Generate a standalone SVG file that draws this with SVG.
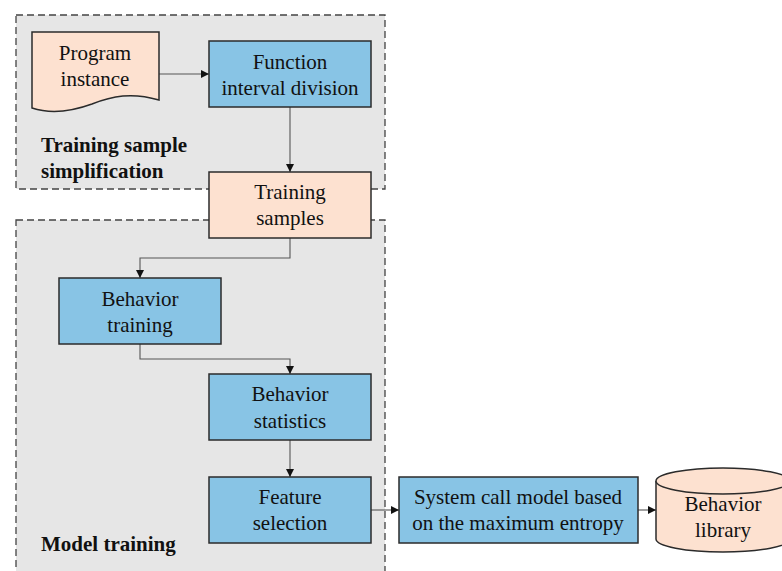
<svg xmlns="http://www.w3.org/2000/svg" width="782" height="571" viewBox="0 0 782 571">
  <defs>
    <marker id="arrow" viewBox="0 0 10 10" refX="10" refY="5" markerWidth="8" markerHeight="8" markerUnits="userSpaceOnUse" orient="auto">
      <path d="M0,0 L10,5 L0,10 Z" fill="#111"/>
    </marker>
    <style>
      .group { fill: #e6e6e6; stroke: #444; stroke-width: 1.3; stroke-dasharray: 7 4; }
      .blue { fill: #88c4e5; stroke: #2b2b2b; stroke-width: 1.5; }
      .peach { fill: #fde1d0; stroke: #2b2b2b; stroke-width: 1.5; }
      .label { font-family: "Liberation Serif", "Times New Roman", serif; font-size: 21px; fill: #111; text-anchor: middle; }
      .title { font-family: "Liberation Serif", "Times New Roman", serif; font-size: 21px; font-weight: bold; fill: #111; }
      .conn { fill: none; stroke: #555; stroke-width: 1.1; marker-end: url(#arrow); }
    </style>
  </defs>
  <rect width="782" height="571" fill="#ffffff"/>

  <!-- container regions -->
  <g id="region-simplification">
    <rect class="group" x="16" y="15" width="369" height="174"/>
    <text class="title" x="41" y="152">Training sample</text>
    <text class="title" x="41" y="178">simplification</text>
  </g>
  <g id="region-model-training">
    <rect class="group" x="16" y="220" width="369" height="360"/>
    <text class="title" x="41" y="551">Model training</text>
  </g>

  <!-- connectors -->
  <g id="connectors">
    <path class="conn" d="M159,74 H209"/>
    <path class="conn" d="M290,107 V172"/>
    <path class="conn" d="M290,238 V258 H140 V278"/>
    <path class="conn" d="M140,344 V359 H290 V374"/>
    <path class="conn" d="M290,440 V477"/>
    <path class="conn" d="M371,510 H399"/>
    <path class="conn" d="M638,510 H656"/>
  </g>

  <g id="program-instance">
    <path class="peach" d="M32,32 H159 V100 C132,92 112,96 92,104 C70,112 50,114 32,108 Z"/>
    <text class="label" x="95" y="60">Program</text>
    <text class="label" x="95" y="86">instance</text>
  </g>

  <g id="function-interval-division">
    <rect class="blue" x="209" y="41" width="162" height="66"/>
    <text class="label" x="290" y="69">Function</text>
    <text class="label" x="290" y="95">interval division</text>
  </g>

  <g id="training-samples">
    <rect class="peach" x="209" y="172" width="162" height="66"/>
    <text class="label" x="290" y="199">Training</text>
    <text class="label" x="290" y="225">samples</text>
  </g>

  <g id="behavior-training">
    <rect class="blue" x="59" y="278" width="162" height="66"/>
    <text class="label" x="140" y="306">Behavior</text>
    <text class="label" x="140" y="332">training</text>
  </g>

  <g id="behavior-statistics">
    <rect class="blue" x="209" y="374" width="162" height="66"/>
    <text class="label" x="290" y="401">Behavior</text>
    <text class="label" x="290" y="428">statistics</text>
  </g>

  <g id="feature-selection">
    <rect class="blue" x="209" y="477" width="162" height="66"/>
    <text class="label" x="290" y="504">Feature</text>
    <text class="label" x="290" y="530">selection</text>
  </g>

  <g id="system-call-model">
    <rect class="blue" x="399" y="477" width="239" height="66"/>
    <text class="label" x="518" y="504">System call model based</text>
    <text class="label" x="518" y="530">on the maximum entropy</text>
  </g>

  <g id="behavior-library">
    <path class="peach" d="M656,481 V539 A67,13 0 0 0 790,539 V481"/>
    <ellipse class="peach" cx="723" cy="481" rx="67" ry="13"/>
    <text class="label" x="723" y="511">Behavior</text>
    <text class="label" x="723" y="537">library</text>
  </g>
</svg>
